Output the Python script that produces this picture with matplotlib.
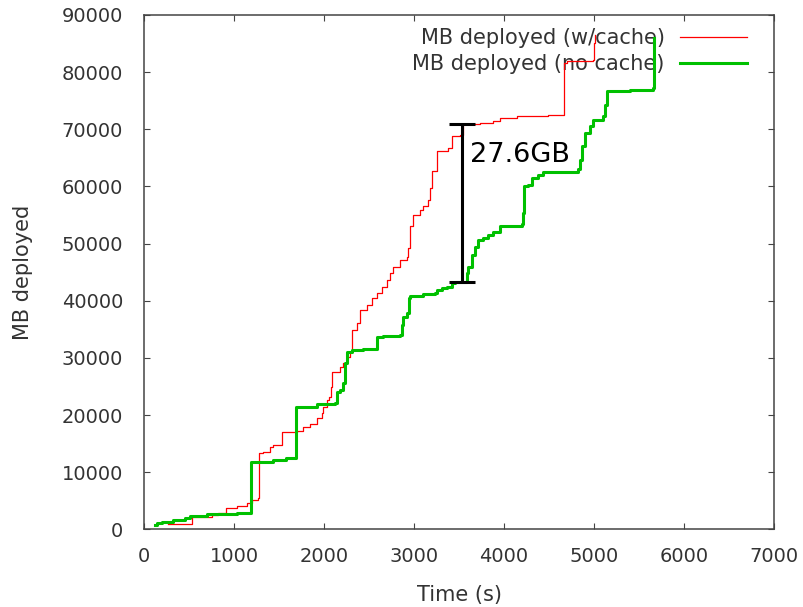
import matplotlib
matplotlib.use("Agg")
import matplotlib.pyplot as plt

# MB deployed with cache (time in s, cumulative MB), step curve
cache_t = [267, 530, 752, 822, 911, 1030, 1141, 1197, 1270, 1283, 1322, 1400, 1433,
           1530, 1697, 1767, 1844, 1919, 1974, 1993, 2030, 2059, 2080, 2090, 2178,
           2214, 2252, 2289, 2314, 2363, 2400, 2474, 2530, 2585, 2641, 2697, 2733,
           2770, 2844, 2919, 2930, 2956, 2992, 3067, 3103, 3159, 3178, 3197, 3252,
           3381, 3419, 3511, 3548, 3733, 3881, 3956, 4141, 4492, 4667, 4696, 4992,
           4995, 5011]
cache_mb = [930, 2100, 2500, 2900, 3680, 4080, 4550, 5130, 5430, 13400, 13590, 14460,
            14760, 16990, 17260, 17970, 18440, 19430, 20310, 21470, 22640, 23220,
            24900, 27600, 28470, 29070, 30220, 31100, 34900, 36070, 38420, 39300,
            40450, 41320, 42480, 43650, 44830, 45980, 47150, 47730, 49200, 52990,
            55040, 55910, 56490, 57660, 59710, 62620, 66120, 66710, 68740, 69040,
            70970, 71090, 71370, 71970, 72250, 72540, 81600, 81880, 82180, 85100,
            86500]

# MB deployed without cache
nocache_t = [125, 140, 195, 326, 456, 511, 697, 1030, 1192, 1437, 1580, 1690, 1919,
             2122, 2141, 2178, 2214, 2233, 2252, 2308, 2437, 2585, 2592, 2659, 2844,
             2863, 2881, 2919, 2948, 2956, 3103, 3233, 3252, 3308, 3363, 3419, 3456,
             3548, 3585, 3603, 3641, 3678, 3714, 3770, 3826, 3881, 3956, 4067, 4197,
             4208, 4222, 4270, 4308, 4381, 4437, 4826, 4844, 4863, 4900, 4956, 4992,
             5103, 5122, 5141, 5400, 5659, 5667]
nocache_mb = [750, 1160, 1330, 1630, 1930, 2380, 2630, 2800, 11840, 12130, 12430,
              21470, 21940, 22060, 24090, 24390, 25560, 29070, 31100, 31400, 31570,
              31800, 33620, 33850, 34020, 35770, 37230, 37820, 40450, 40850, 41150,
              41320, 41900, 42200, 42480, 43070, 43300, 43350, 44830, 45980, 48030,
              49480, 50660, 50950, 51530, 52110, 52990, 53160, 53400, 55330, 59990,
              60290, 61460, 62040, 62440, 63040, 64670, 67000, 69340, 70500, 71670,
              72370, 74290, 76620, 76920, 77220, 86000]

# gap marker
gap_t = 3533
gap_lo = 43350
gap_hi = 71000
gap_label = "27.6GB"

xticks = list(range(0, 7001, 1000))
yticks = list(range(0, 90001, 10000))

grey = "#333333"

fig = plt.figure(figsize=(8.04, 6.07), dpi=100)
ax = fig.add_axes([0.1791, 0.128, 0.7836, 0.8473])

ax.plot(cache_t, cache_mb, drawstyle="steps-post", color="#ff0000", lw=0.9,
        label="MB deployed (w/cache)", zorder=3)
ax.plot(nocache_t, nocache_mb, drawstyle="steps-post", color="#00c000", lw=2.2,
        label="MB deployed (no cache)", zorder=4)

mid = (gap_lo + gap_hi) / 2
ax.errorbar([gap_t], [mid], yerr=[[mid - gap_lo], [gap_hi - mid]], fmt="none",
            ecolor="black", elinewidth=2.2, capsize=9.5, capthick=2.2, zorder=5)
ax.text(gap_t + 90, 65500, gap_label, fontsize=19.5, ha="left", va="center", color="black")

ax.set_xlim(0, 7000)
ax.set_ylim(0, 90000)
ax.set_xticks(xticks)
ax.set_yticks(yticks)
ax.tick_params(direction="in", length=4.3, width=0.8, top=True, right=True,
               labelsize=14, colors="#444444", labelcolor=grey)
ax.tick_params(axis="y", pad=15)
ax.tick_params(axis="x", pad=13)
for s in ax.spines.values():
    s.set_color("#444444")
    s.set_linewidth(1.1)

ax.set_xlabel("Time (s)", fontsize=15, color=grey)
ax.set_ylabel("MB deployed", fontsize=15, color=grey)
ax.xaxis.set_label_coords(0.5, -0.108)
ax.yaxis.set_label_coords(-0.176, 0.5)

leg = ax.legend(loc="upper right", bbox_to_anchor=(0.957, 0.975), frameon=False,
                markerfirst=False, fontsize=15, handlelength=3.2, handletextpad=0.75,
                labelspacing=0.3, borderpad=0, borderaxespad=0, labelcolor=grey)
leg.set_zorder(1)

fig.savefig("out.png", dpi=100)
